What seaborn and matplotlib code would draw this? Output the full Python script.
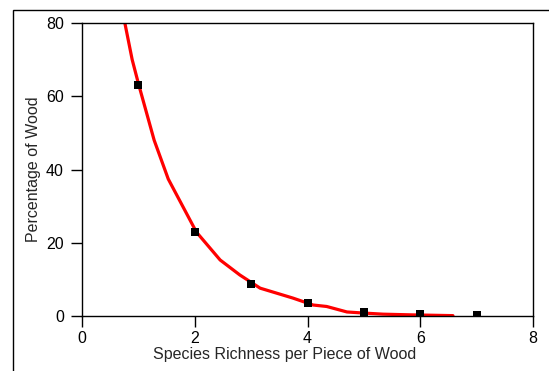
import matplotlib
matplotlib.use("Agg")
import matplotlib.pyplot as plt
from matplotlib.patches import Rectangle
import seaborn as sns
import pandas as pd

# observed data
richness = [1, 2, 3, 4, 5, 6, 7]
percent = [63.0, 23.0, 8.8, 3.6, 1.0, 0.5, 0.3]

# fitted curve
fit_x = [0.76, 0.89, 1.0, 1.28, 1.53, 2.03, 2.45, 2.8, 3.16, 3.74, 4.1, 4.34, 4.7, 5.0, 5.34, 5.87, 6.58]
fit_y = [80, 70, 63.5, 48, 37.4, 22.9, 15.3, 11.2, 7.6, 4.9, 3.0, 2.6, 1.1, 0.8, 0.5, 0.3, 0.1]

x_ticks = [0, 2, 4, 6, 8]
y_ticks = [0, 20, 40, 60, 80]

sns.set_style("ticks")
plt.rcParams['font.family'] = ['Liberation Sans', 'DejaVu Sans']

fig = plt.figure(figsize=(5.49, 3.71), dpi=100)
ax = fig.add_axes([82/549, 1-316/371, (533-82)/549, (316-23)/371])

df_obs = pd.DataFrame({"x": richness, "y": percent})
df_fit = pd.DataFrame({"x": fit_x, "y": fit_y})

sns.lineplot(data=df_fit, x="x", y="y", sort=False, estimator=None, color="#ff0000",
             linewidth=2.3, ax=ax, zorder=2)
sns.scatterplot(data=df_obs, x="x", y="y", marker="s", s=26, color="black",
                edgecolor="black", linewidth=0, ax=ax, zorder=3)

ax.set_xlim(0, 8)
ax.set_ylim(0, 80)
ax.set_xticks(x_ticks)
ax.set_yticks(y_ticks)
ax.tick_params(direction="out", length=8, width=1, labelsize=11.5, colors="black")
ax.tick_params(axis="x", pad=3)
ax.tick_params(axis="y", pad=5)
for s in ax.spines.values():
    s.set_linewidth(1)
    s.set_color("black")
ax.set_xlabel("Species Richness per Piece of Wood", fontsize=11.5)
ax.set_ylabel("Percentage of Wood", fontsize=11.5)
ax.xaxis.set_label_coords(0.45, -0.105)
ax.yaxis.set_label_coords(-0.09, 0.5)

fig.patches.append(Rectangle((13/549, -0.1), 1.0, 1.1 - 10/371, transform=fig.transFigure,
                             fill=False, edgecolor="black", linewidth=1))

fig.savefig("out.png", dpi=100)
